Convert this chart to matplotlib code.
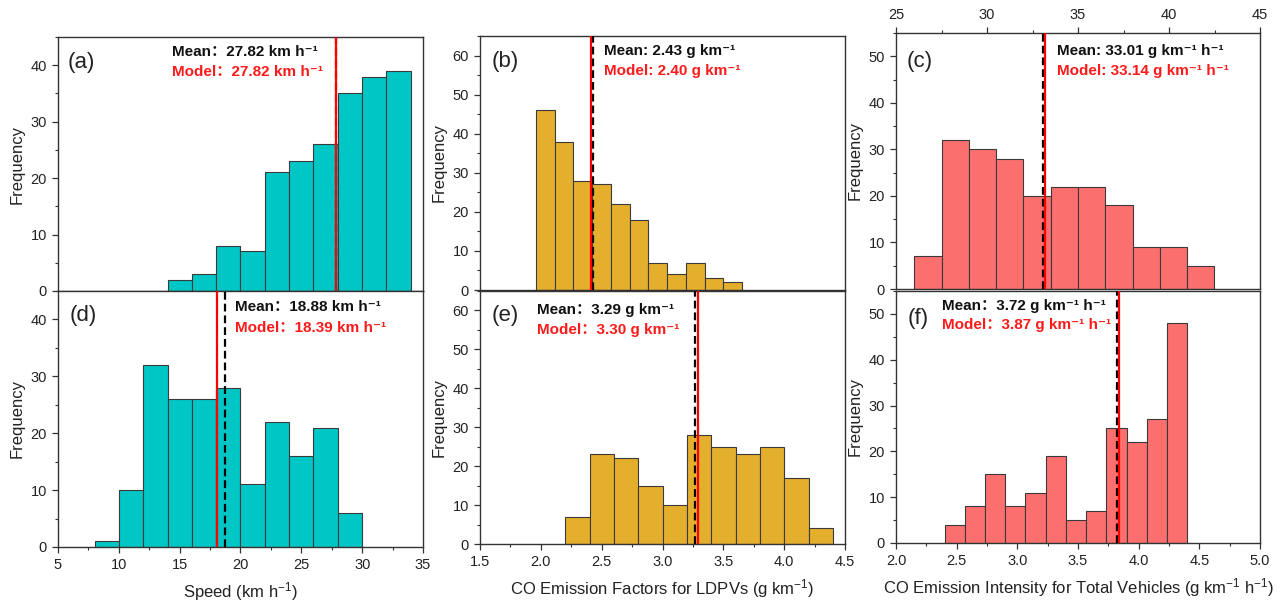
import matplotlib
matplotlib.use("Agg")
import matplotlib.pyplot as plt
from matplotlib.ticker import MultipleLocator
import numpy as np

plt.rcParams['font.family'] = ['Liberation Sans', 'Noto Sans CJK SC', 'DejaVu Sans']
plt.rcParams['mathtext.default'] = 'regular'

# ---------------- data ----------------
# (a) speed, upper panel
a_edges = [14, 16, 18, 20, 22, 24, 26, 28, 30, 32, 34]
a_counts = [2, 3, 8, 7, 21, 23, 26, 35, 38, 39]
# (d) speed, lower panel
d_edges = [8, 10, 12, 14, 16, 18, 20, 22, 24, 26, 28, 30]
d_counts = [1, 10, 32, 26, 26, 28, 11, 22, 16, 21, 6]
# (b) CO EF LDPVs, upper
b_edges = [1.96, 2.114, 2.268, 2.422, 2.576, 2.730, 2.884, 3.038, 3.192, 3.346, 3.500, 3.654]
b_counts = [46, 38, 28, 27, 22, 18, 7, 4, 7, 3, 2]
# (e) CO EF LDPVs, lower
e_edges = [2.2, 2.4, 2.6, 2.8, 3.0, 3.2, 3.4, 3.6, 3.8, 4.0, 4.2, 4.4]
e_counts = [7, 23, 22, 15, 10, 28, 25, 23, 25, 17, 4]
# (c) CO intensity, upper (top axis)
c_edges = [26, 27.5, 29, 30.5, 32, 33.5, 35, 36.5, 38, 39.5, 41, 42.5]
c_counts = [7, 32, 30, 28, 20, 22, 22, 18, 9, 9, 5]
# (f) CO intensity, lower
f_edges = [2.4, 2.567, 2.733, 2.9, 3.067, 3.233, 3.4, 3.567, 3.733, 3.9, 4.067, 4.233, 4.4]
f_counts = [4, 8, 15, 8, 11, 19, 5, 7, 25, 22, 27, 48]

# vertical line positions (mean dashed, model solid)
mean_lines = {'a': 27.82, 'b': 2.43, 'c': 33.05, 'd': 18.72, 'e': 3.27, 'f': 3.823}
model_lines = {'a': 27.82, 'b': 2.41, 'c': 33.2, 'd': 18.05, 'e': 3.29, 'f': 3.842}

SUP = '\u207b\u00b9'
mean_text = {
    'a': 'Mean：27.82 km h' + SUP,
    'b': 'Mean: 2.43 g km' + SUP,
    'c': 'Mean: 33.01 g km' + SUP + ' h' + SUP,
    'd': 'Mean：18.88 km h' + SUP,
    'e': 'Mean：3.29 g km' + SUP,
    'f': 'Mean：3.72 g km' + SUP + ' h' + SUP,
}
model_text = {
    'a': 'Model：27.82 km h' + SUP,
    'b': 'Model: 2.40 g km' + SUP,
    'c': 'Model: 33.14 g km' + SUP + ' h' + SUP,
    'd': 'Model：18.39 km h' + SUP,
    'e': 'Model：3.30 g km' + SUP,
    'f': 'Model：3.87 g km' + SUP + ' h' + SUP,
}

TEAL = '#00C6C6'
GOLD = '#E5AF2E'
PINK = '#FC6F6F'

W, H = 1287, 606
fig = plt.figure(figsize=(W / 100, H / 100), dpi=100)


def make_ax(l, r, t, b):
    return fig.add_axes([l / W, 1 - b / H, (r - l) / W, (b - t) / H])


# pixel boxes (left, right, top, bottom)
boxes = {
    'a': (58, 423, 37, 291),
    'd': (58, 423, 291, 547),
    'b': (480, 845, 36, 290),
    'e': (480, 845, 291, 544),
    'c': (896, 1260, 33, 289),
    'f': (896, 1260, 291, 543),
}

panels = {
    'a': (a_edges, a_counts, TEAL, (5, 35), (0, 45), 5, 2.5, 10, 5),
    'd': (d_edges, d_counts, TEAL, (5, 35), (0, 45), 5, 2.5, 10, 5),
    'b': (b_edges, b_counts, GOLD, (1.5, 4.5), (0, 65), 0.5, 0.25, 10, 5),
    'e': (e_edges, e_counts, GOLD, (1.5, 4.5), (0, 65), 0.5, 0.25, 10, 5),
    'c': (c_edges, c_counts, PINK, (25, 45), (0, 55), 5, 2.5, 10, 5),
    'f': (f_edges, f_counts, PINK, (2.0, 5.0), (0, 55), 0.5, 0.25, 10, 5),
}

label_pos = {'a': (0.027, 0.90), 'd': (0.033, 0.906), 'b': (0.032, 0.899),
             'e': (0.032, 0.905), 'c': (0.029, 0.888), 'f': (0.033, 0.892)}
text_pos = {'a': (0.312, 0.941, 0.862), 'd': (0.485, 0.936, 0.854),
            'b': (0.34, 0.942, 0.863), 'e': (0.157, 0.925, 0.846),
            'c': (0.441, 0.931, 0.853), 'f': (0.125, 0.940, 0.865)}

xlabels = {'d': 'Speed (km h$^{-1}$)',
           'e': 'CO Emission Factors for LDPVs (g km$^{-1}$)',
           'f': 'CO Emission Intensity for Total Vehicles (g km$^{-1}$ h$^{-1}$)'}

spine_col = '#333333'
for key, (edges, counts, col, xl, yl, xmaj, xmin, ymaj, ymin) in panels.items():
    ax = make_ax(*boxes[key])
    edges = np.asarray(edges)
    ax.bar(edges[:-1], counts, width=np.diff(edges), align='edge', color=col,
           edgecolor='#3a3a3a', linewidth=0.8, zorder=2)
    ax.axvline(mean_lines[key], color='black', linestyle=(0, (3.5, 1.8)), lw=1.6, zorder=3)
    ax.axvline(model_lines[key], color='#FF0000', linestyle='-', lw=1.6, zorder=4)
    ax.set_xlim(*xl)
    ax.set_ylim(*yl)
    ax.xaxis.set_major_locator(MultipleLocator(xmaj))
    ax.xaxis.set_minor_locator(MultipleLocator(xmin))
    ax.yaxis.set_major_locator(MultipleLocator(ymaj))
    ax.yaxis.set_minor_locator(MultipleLocator(ymin))
    for s in ax.spines.values():
        s.set_color(spine_col)
        s.set_linewidth(1.0)
    ax.tick_params(axis='y', which='both', direction='out', left=True, right=False,
                   labelsize=10.5, colors=spine_col, labelcolor='#222222')
    ax.tick_params(axis='y', which='major', length=4.5, width=0.9)
    ax.tick_params(axis='y', which='minor', length=2.5, width=0.8)
    ax.set_ylabel('Frequency', fontsize=12, color='#222222', labelpad=4)
    if key in ('d', 'e', 'f'):
        ax.tick_params(axis='x', which='both', direction='out', bottom=True, top=False,
                       labelsize=10.5, colors=spine_col, labelcolor='#222222')
        ax.tick_params(axis='x', which='major', length=4.5, width=0.9)
        ax.tick_params(axis='x', which='minor', length=2.5, width=0.8)
        ax.set_xlabel(xlabels[key], fontsize=12, color='#222222', labelpad=6)
        lbls = ax.get_xticks()
        fmt = '{:.0f}' if key == 'd' else '{:.1f}'
        ax.set_xticks(lbls)
        ax.set_xticklabels([fmt.format(v) for v in lbls])
        ax.set_xlim(*xl)
    elif key == 'c':
        ax.tick_params(axis='x', which='both', direction='out', bottom=False, top=True,
                       labelbottom=False, labeltop=True,
                       labelsize=10.5, colors=spine_col, labelcolor='#222222')
        ax.tick_params(axis='x', which='major', length=4.5, width=0.9)
        ax.tick_params(axis='x', which='minor', length=2.5, width=0.8)
    else:
        ax.tick_params(axis='x', which='both', bottom=False, top=False,
                       labelbottom=False)

    lx, ly = label_pos[key]
    ax.text(lx, ly, '(%s)' % key, transform=ax.transAxes, fontsize=16,
            ha='left', va='center', color='#222222', zorder=5)
    tx, ty1, ty2 = text_pos[key]
    ax.text(tx, ty1, mean_text[key], transform=ax.transAxes, fontsize=11,
            fontweight='bold', ha='left', va='center', color='#111111', zorder=5)
    ax.text(tx, ty2, model_text[key], transform=ax.transAxes, fontsize=11,
            fontweight='bold', ha='left', va='center', color='#FF1A1A', zorder=5)

fig.savefig('out.png', dpi=100)
